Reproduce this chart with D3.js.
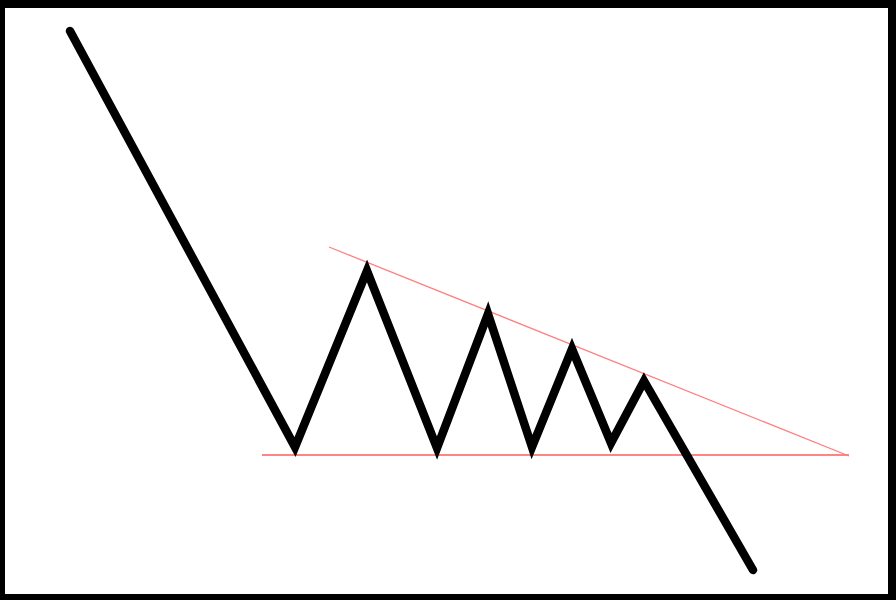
<!DOCTYPE html>
<html>
<head>
<meta charset="utf-8">
<script src="https://cdn.jsdelivr.net/npm/d3@7"></script>
<style>
	html, body { margin: 0; padding: 0; background: #000; }
	svg { display: block; }
</style>
</head>
<body>
<svg id="chart" width="896" height="600"></svg>
<script>
	// price path: time steps and prices (descending triangle, then breakdown)
	const times = [70, 295, 367, 437, 488, 532, 572, 611, 644, 753];
	const prices = [569, 153, 329, 152, 286, 153, 251, 157, 219, 30];

	// support line (flat) and resistance line (descending)
	const supportTimes = [262, 849];
	const supportPrices = [145, 145];
	const resistanceTimes = [329, 849];
	const resistancePrices = [353, 144];

	const width = 896;
	const height = 600;

	const svg = d3.select("#chart");

	const x = d3.scaleLinear().domain([0, width]).range([0, width]);
	const y = d3.scaleLinear().domain([0, height]).range([height, 0]);

	// black frame around a white plot area
	svg.append("rect")
		.attr("width", width)
		.attr("height", height)
		.attr("fill", "#000");
	svg.append("rect")
		.attr("x", 5)
		.attr("y", 8)
		.attr("width", 883)
		.attr("height", 586)
		.attr("fill", "#fff");

	const line = d3.line()
		.x((d) => x(d[0]))
		.y((d) => y(d[1]));

	svg.append("path")
		.datum(d3.zip(supportTimes, supportPrices))
		.attr("d", line)
		.attr("fill", "none")
		.attr("stroke", "#ff8585")
		.attr("stroke-width", 2.2);

	svg.append("path")
		.datum(d3.zip(resistanceTimes, resistancePrices))
		.attr("d", line)
		.attr("fill", "none")
		.attr("stroke", "#ff7f7f")
		.attr("stroke-width", 1.3);

	svg.append("path")
		.datum(d3.zip(times, prices))
		.attr("d", line)
		.attr("fill", "none")
		.attr("stroke", "#000")
		.attr("stroke-width", 8.5)
		.attr("stroke-linecap", "round")
		.attr("stroke-linejoin", "miter");
</script>
</body>
</html>
